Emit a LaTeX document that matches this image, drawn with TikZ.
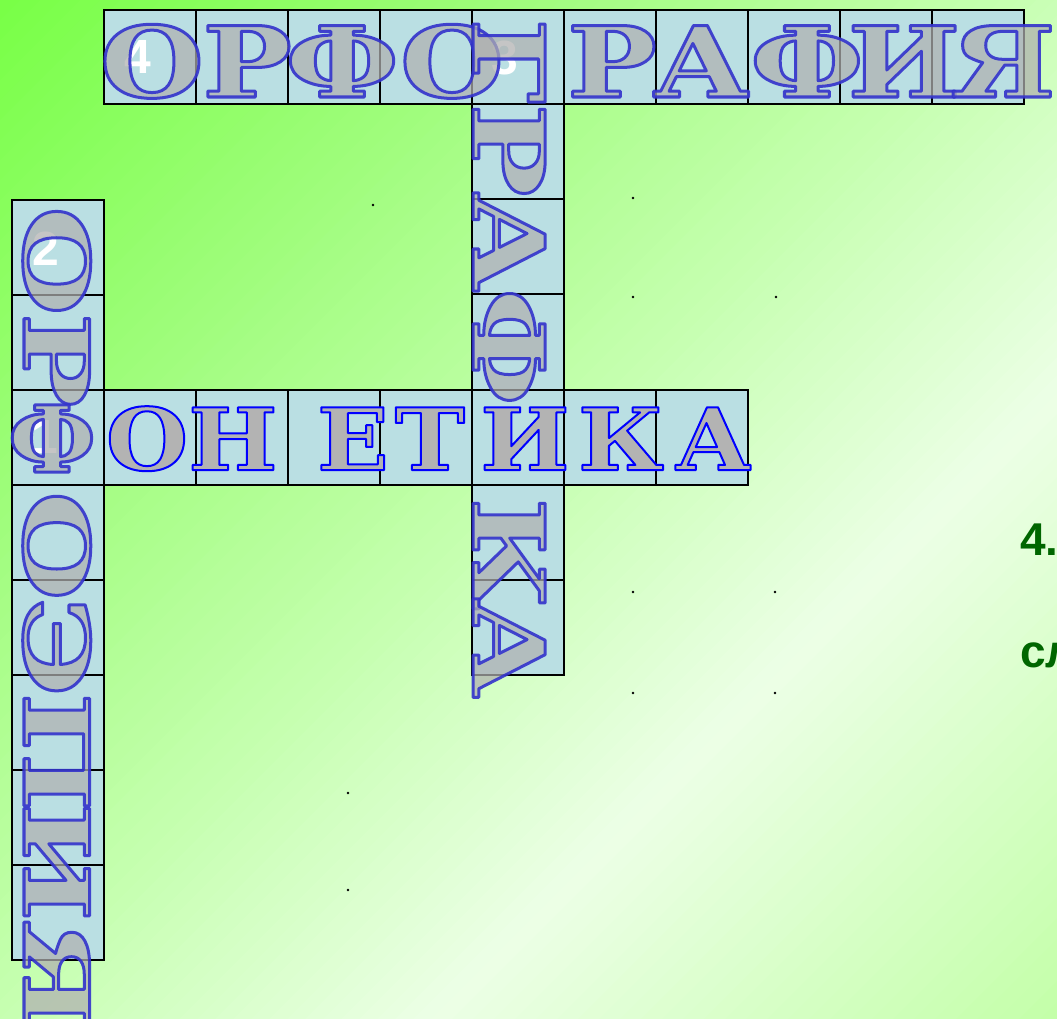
\documentclass[tikz,border=0pt]{standalone}
\usepackage{fontspec}
\newfontfamily\fTop{DejaVu Serif}[FakeStretch=1.22]
\newfontfamily\fGr{DejaVu Serif}[FakeStretch=1.25]
\newfontfamily\fLeft{DejaVu Serif}[FakeStretch=1.4]
\newfontfamily\fFon{DejaVu Serif}[FakeStretch=1.1]
\newfontfamily\fPhi{DejaVu Serif}[FakeStretch=1.0]
\newfontfamily\fNum{Liberation Sans}
\definecolor{cellblue}{RGB}{186,223,227}
\definecolor{lgray}{RGB}{176,176,176}
\definecolor{fgray}{RGB}{179,179,179}
\definecolor{dgreen}{RGB}{0,102,0}
\definecolor{bgA}{RGB}{120,255,70}
\definecolor{bgB}{RGB}{158,253,122}
\definecolor{bgC}{RGB}{197,255,175}
\definecolor{bgD}{RGB}{236,255,230}
\definecolor{bgE}{RGB}{195,255,168}
\newcommand\Lz[1]{\makebox[0pt][c]{#1}}
\newcommand\olon[2]{\special{pdf:literal direct #2 RG #1 w 1 j 2 Tr}}
\newcommand\oloff{\special{pdf:literal direct 0 Tr}}
\newcommand\bgseg[5]{%
  \pgfmathsetmacro\bgstep{(#2-#1)/#5}%
  \foreach \i in {1,...,#5}{%
    \pgfmathsetmacro\sa{#1+\bgstep*(\i-1)}%
    \pgfmathsetmacro\sb{#1+\bgstep*\i+1.5}%
    \pgfmathtruncatemacro\pc{100*(\i-0.5)/#5}%
    \fill[#4!\pc!#3] (\sa,0) -- (\sb,0) -- (0,\sb) -- (0,\sa) -- cycle;}}
\tikzset{
  cell/.style={draw=black, line width=1.3pt, fill=cellblue, inner sep=0pt, outer sep=0pt, minimum width=92pt, minimum height=95pt},
  glass/.style={inner sep=0pt, outer sep=0pt, anchor=base west, text=lgray, fill opacity=0.72, draw opacity=0.9},
  solidw/.style={inner sep=0pt, outer sep=0pt, anchor=base west, text=fgray},
  num/.style={inner sep=0pt, text=white, font=\fNum\bfseries\fontsize{48pt}{48pt}\selectfont},
  dotn/.style={circle, fill=black, inner sep=0pt, minimum size=2.6pt},
  gtext/.style={inner sep=0pt, anchor=base west, text=dgreen, font=\fNum\bfseries\fontsize{46pt}{46pt}\selectfont}
}
\begin{document}
\begin{tikzpicture}[x=1pt,y=-1pt]
\useasboundingbox (0,0) rectangle (1057,1018);
\clip (0,0) rectangle (1057,1018);
% background gradient along x+y
\bgseg{0}{500}{bgA}{bgB}{25}
\bgseg{500}{1000}{bgB}{bgC}{25}
\bgseg{1000}{1450}{bgC}{bgD}{25}
\bgseg{1450}{2080}{bgD}{bgE}{30}
% dots
\foreach \n/\x/\y in {1/373/205, 2/633/198, 3/633/297, 4/776/297, 5/633/592, 6/775/592, 7/633/693, 8/775/693, 9/348/793, 10/348/890}
  \node[dotn] (d\n) at (\x,\y) {};
% cells
\foreach \i in {0,...,9} \node[cell, minimum height=94pt] (top\i) at ({150+92*\i},57) {};
\foreach \i/\y in {1/151.5, 2/246.5, 3/342, 5/532.5, 6/627.5} \node[cell] (gr\i) at (518,\y) {};
\foreach \i/\y in {0/247.5, 1/342.5, 3/532.5, 4/627.5, 5/722.5, 6/817.5, 7/912.5} \node[cell] (le\i) at (58,\y) {};
\foreach \i in {0,...,7} \node[cell] (fo\i) at ({58+92*\i},437.5) {};
% numbers
\node[num] (n4) at (138,57) {4};
\node[num] (n3) at (505,58) {3};
\node[num] (n2) at (46,249) {2};
\node[num] (n1) at (45,437) {1};
% words
\node[glass, font=\fTop\bfseries\fontsize{98pt}{98pt}\selectfont] (w4) at (152,97)
  {\olon{3}{0.2 0.2 0.8}\Lz{О}\kern95pt\Lz{Р}\kern95pt\Lz{Ф}\kern110pt\Lz{О}\kern160pt\Lz{Р}\kern89pt\Lz{А}\kern106pt\Lz{Ф}\kern97pt\Lz{И}\kern99pt\Lz{Я}\oloff};
\node[glass, rotate=-90, font=\fGr\bfseries\fontsize{99pt}{99pt}\selectfont] (w3) at (473,61)
  {\olon{3}{0.2 0.2 0.8}\Lz{Г}\kern89pt\Lz{Р}\kern92pt\Lz{А}\kern105pt\Lz{Ф}\kern207pt\Lz{К}\kern94pt\Lz{А}\oloff};
\node[glass, rotate=-90, font=\fLeft\bfseries\fontsize{90pt}{90pt}\selectfont] (w2) at (24,261)
  {\olon{3}{0.2 0.2 0.8}\Lz{О}\kern99pt\Lz{Р}\kern186pt\Lz{О}\kern101pt\Lz{Э}\kern105pt\Lz{П}\kern110pt\Lz{И}\kern113pt\Lz{Я}\oloff};
\node[glass, anchor=base, font=\fPhi\bfseries\fontsize{92pt}{92pt}\selectfont] (phi) at (52,472)
  {\olon{3}{0.2 0.2 0.8}Ф\oloff};
\node[solidw, font=\fFon\bfseries\fontsize{86pt}{86pt}\selectfont] (w1) at (147,470)
  {\olon{2}{0 0 1}\Lz{О}\kern86pt\Lz{Н}\kern120pt\Lz{Е}\kern77pt\Lz{Т}\kern95pt\Lz{И}\kern96pt\Lz{К}\kern92pt\Lz{А}\oloff};
% green text at right
\node[gtext] (g4) at (1020,555) {4.};
\node[gtext] (gsl) at (1020,667) {сл};
\end{tikzpicture}
\end{document}
